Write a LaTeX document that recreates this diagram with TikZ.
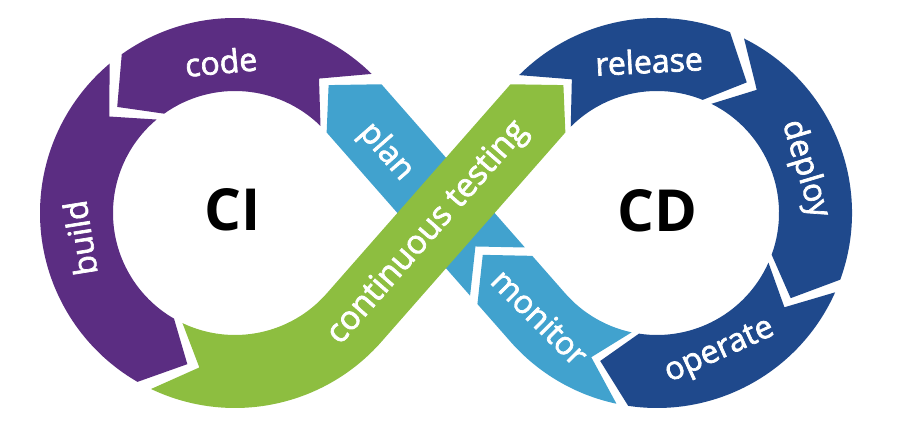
\documentclass[tikz,border=0pt]{standalone}
\usepackage{fontspec}
\setmainfont{Open Sans}
\newfontfamily\labfont{Open Sans}[FakeBold=2.2]
\usetikzlibrary{calc}
\definecolor{cipurple}{RGB}{91,45,130}
\definecolor{ctgreen}{RGB}{141,190,64}
\definecolor{pmblue}{RGB}{65,162,206}
\definecolor{cddark}{RGB}{31,73,140}
\newcommand{\ringseg}[6]{%
  \fill[#1] ([shift={(#3:195pt)}]#2) arc[start angle=#3, end angle=#4, radius=195pt]
    -- ([shift={(#5:158.5pt)}]#2) -- ([shift={(#4:122pt)}]#2)
    arc[start angle=#4, end angle=#3, radius=122pt]
    -- ([shift={(#6:158.5pt)}]#2) -- cycle;}
\begin{document}
\begin{tikzpicture}[x=1pt,y=1pt,
  lab/.style={text=white, font=\labfont\fontsize{32}{32}\selectfont, inner sep=0pt},
  big/.style={text=black, font=\bfseries\fontsize{58}{58}\selectfont, inner sep=0pt}]
\useasboundingbox (0,0) rectangle (907,435);
\coordinate (L) at (235,222);
\coordinate (R) at (657,222);
% plan / monitor diagonal
\coordinate (pA) at ([shift={(41.31:195pt)}]L);
\coordinate (pB) at ([shift={(221.31:122pt)}]R);
\coordinate (pC) at ([shift={(41.31:122pt)}]L);
\coordinate (pD) at ([shift={(221.31:195pt)}]R);
\coordinate (pM1) at ([shift={(41.31:158.5pt)}]L);
\coordinate (pM2) at ([shift={(221.31:158.5pt)}]R);
% green diagonal
\coordinate (gB) at ([shift={(138.69:122pt)}]R);
\coordinate (gC) at ([shift={(318.69:122pt)}]L);
\coordinate (gD) at ([shift={(138.69:195pt)}]R);
% CI ring
\ringseg{cipurple}{L}{45.5}{125.5}{138}{58}
\ringseg{cipurple}{L}{130}{240}{252.5}{142.5}
% CD ring
\ringseg{cddark}{R}{135}{68}{55.5}{122.5}
\ringseg{cddark}{R}{63.5}{-20}{-32.5}{51}
\ringseg{cddark}{R}{-24}{-98.5}{-111}{-36.5}
% monitor
\fill[pmblue] ([shift={(258:195pt)}]R) arc[start angle=258, end angle=221.31, radius=195pt]
  -- ($(pC)!0.82!(pD)$) -- ($(pM1)!0.70!(pM2)$) -- ($(pA)!0.82!(pB)$) -- (pB)
  arc[start angle=221.31, end angle=258, radius=122pt] -- ([shift={(245.5:158.5pt)}]R) -- cycle;
% plan
\fill[pmblue] ($(pA)!0.78!(pB)$) -- (pA) -- ([shift={(53.8:158.5pt)}]L) -- (pC)
  -- ($(pC)!0.78!(pD)$) -- ($(pM1)!0.66!(pM2)$) -- cycle;
% continuous testing
\fill[ctgreen] ([shift={(244.5:195pt)}]L) arc[start angle=244.5, end angle=318.69, radius=195pt]
  -- (gB) -- ([shift={(126.2:158.5pt)}]R) -- (gD) -- (gC)
  arc[start angle=318.69, end angle=244.5, radius=122pt] -- ([shift={(257:158.5pt)}]L) -- cycle;
% labels
\node[lab, rotate=5.3] (code) at ([shift={(95.3:152pt)}]L) {code};
\node[lab, rotate=99] (build) at ([shift={(189.2:157pt)}]L) {build};
\node[lab, rotate=-48.7] (plan) at (386,283) {plan};
\node[lab, rotate=48.7, font=\labfont\fontsize{33}{33}\selectfont] (ct) at (428,202) {continuous testing};
\node[lab, rotate=-45] (monitor) at (540,118) {monitor};
\node[lab, rotate=3] (release) at (649,374) {release};
\node[lab, rotate=-73.4] (deploy) at (805,266) {deploy};
\node[lab, rotate=24.4] (operate) at (720,83) {operate};
\node[big] (ci) at (233,225) {CI};
\node[big] (cd) at (657,224) {CD};
\end{tikzpicture}
\end{document}
